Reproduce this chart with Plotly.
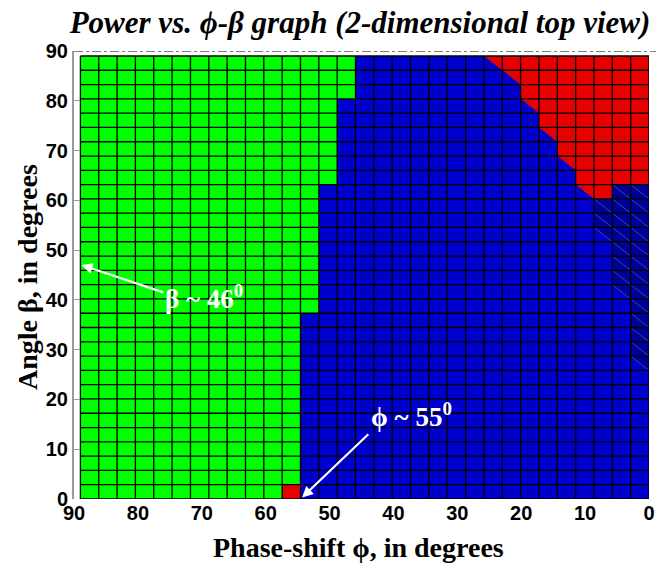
import plotly.graph_objects as go

# ---- data ----
# grid edges (degrees)
phi_edges = [89.0, 86.13, 83.26, 80.39, 77.52, 74.65, 71.77, 68.90, 66.03, 63.16,
             60.29, 57.42, 54.55, 51.68, 48.81, 45.94, 43.06, 40.19, 37.32, 34.45,
             31.58, 28.71, 25.84, 22.97, 20.10, 17.23, 14.35, 11.48, 8.61, 5.74,
             2.87, 0.0]
beta_edges = [0.0, 2.87, 5.74, 8.61, 11.48, 14.35, 17.23, 20.10, 22.97, 25.84,
              28.71, 31.58, 34.45, 37.32, 40.19, 43.06, 45.94, 48.81, 51.68, 54.55,
              57.42, 60.29, 63.16, 66.03, 68.90, 71.77, 74.65, 77.52, 80.39, 83.26,
              86.13, 89.0]

# region of each cell, rows listed from top (beta high) to bottom; columns from phi=89 to phi=0
# G = green, B = blue, D = dark blue, R = red
region_rows_top_down = [
    "GGGGGGGGGGGGGGGBBBBBBBBRRRRRRRR",  # row 30
    "GGGGGGGGGGGGGGGBBBBBBBBBRRRRRRR",  # row 29
    "GGGGGGGGGGGGGGGBBBBBBBBBRRRRRRR",  # row 28
    "GGGGGGGGGGGGGGBBBBBBBBBBBRRRRRR",  # row 27
    "GGGGGGGGGGGGGGBBBBBBBBBBBRRRRRR",  # row 26
    "GGGGGGGGGGGGGGBBBBBBBBBBBBRRRRR",  # row 25
    "GGGGGGGGGGGGGGBBBBBBBBBBBBRRRRR",  # row 24
    "GGGGGGGGGGGGGGBBBBBBBBBBBBBRRRR",  # row 23
    "GGGGGGGGGGGGGGBBBBBBBBBBBBBRRRR",  # row 22
    "GGGGGGGGGGGGGBBBBBBBBBBBBBBBRDD",  # row 21
    "GGGGGGGGGGGGGBBBBBBBBBBBBBBBDDD",  # row 20
    "GGGGGGGGGGGGGBBBBBBBBBBBBBBBDDD",  # row 19
    "GGGGGGGGGGGGGBBBBBBBBBBBBBBBBDD",  # row 18
    "GGGGGGGGGGGGGBBBBBBBBBBBBBBBBDD",  # row 17
    "GGGGGGGGGGGGGBBBBBBBBBBBBBBBBDD",  # row 16
    "GGGGGGGGGGGGGBBBBBBBBBBBBBBBBDD",  # row 15
    "GGGGGGGGGGGGGBBBBBBBBBBBBBBBBBD",  # row 14
    "GGGGGGGGGGGGGBBBBBBBBBBBBBBBBBD",  # row 13
    "GGGGGGGGGGGGBBBBBBBBBBBBBBBBBBD",  # row 12
    "GGGGGGGGGGGGBBBBBBBBBBBBBBBBBBD",  # row 11
    "GGGGGGGGGGGGBBBBBBBBBBBBBBBBBBD",  # row 10
    "GGGGGGGGGGGGBBBBBBBBBBBBBBBBBBB",  # row 9
    "GGGGGGGGGGGGBBBBBBBBBBBBBBBBBBB",  # row 8
    "GGGGGGGGGGGGBBBBBBBBBBBBBBBBBBB",  # row 7
    "GGGGGGGGGGGGBBBBBBBBBBBBBBBBBBB",  # row 6
    "GGGGGGGGGGGGBBBBBBBBBBBBBBBBBBB",  # row 5
    "GGGGGGGGGGGGBBBBBBBBBBBBBBBBBBB",  # row 4
    "GGGGGGGGGGGGBBBBBBBBBBBBBBBBBBB",  # row 3
    "GGGGGGGGGGGGBBBBBBBBBBBBBBBBBBB",  # row 2
    "GGGGGGGGGGGGBBBBBBBBBBBBBBBBBBB",  # row 1
    "GGGGGGGGGGGRBBBBBBBBBBBBBBBBBBB",  # row 0
]

# half-cells (row, column) whose upper-right triangle takes another region
red_triangles = [(30, 22), (29, 23), (27, 24), (25, 25), (23, 26), (21, 27)]
dark_triangles = [(18, 28), (14, 29), (9, 30)]

x_ticks = [0, 10, 20, 30, 40, 50, 60, 70, 80, 90]
y_ticks = [0, 10, 20, 30, 40, 50, 60, 70, 80, 90]

# ---- styles ----
GREEN = "#00FF00"
BLUE = "#0000CD"
DARK = "#000099"
RED = "#E60000"
code = {"G": 0, "B": 1, "D": 2, "R": 3}

ncol = len(phi_edges) - 1
nrow = len(beta_edges) - 1
rows_bottom_up = list(reversed(region_rows_top_down))
z = []
for s in rows_bottom_up:
    r = [code[c] for c in s[:ncol]]
    r += [1] * (ncol - len(r))
    z.append(r)

fig = go.Figure()
fig.add_trace(go.Heatmap(
    x=phi_edges, y=beta_edges, z=z, zmin=-0.5, zmax=3.5,
    colorscale=[[0, GREEN], [0.25, GREEN], [0.25, BLUE], [0.5, BLUE],
                [0.5, DARK], [0.75, DARK], [0.75, RED], [1, RED]],
    showscale=False, hoverinfo="skip"))


def tri_trace(cells, color):
    xs, ys = [], []
    for (r, c) in cells:
        xl, xr = phi_edges[c], phi_edges[c + 1]
        yb, yt = beta_edges[r], beta_edges[r + 1]
        xs += [xl, xr, xr, xl, None]
        ys += [yt, yt, yb, yt, None]
    return go.Scatter(x=xs, y=ys, mode="lines", fill="toself", fillcolor=color,
                      line=dict(width=0, color=color), hoverinfo="skip", showlegend=False)


fig.add_trace(tri_trace(red_triangles, RED))
fig.add_trace(tri_trace(dark_triangles, DARK))

# faint diagonal streaks in dark cells
sx, sy = [], []
for r in range(nrow):
    for c in range(ncol):
        if z[r][c] == 2 or (r, c) in dark_triangles:
            sx += [phi_edges[c], phi_edges[c + 1], None]
            sy += [beta_edges[r + 1], beta_edges[r], None]
fig.add_trace(go.Scatter(x=sx, y=sy, mode="lines", line=dict(color="#4a8a9a", width=1),
                         opacity=0.55, hoverinfo="skip", showlegend=False))

# grid lines
gx, gy = [], []
for xe in phi_edges:
    gx += [xe, xe, None]
    gy += [beta_edges[0], beta_edges[-1], None]
for ye in beta_edges:
    gx += [phi_edges[0], phi_edges[-1], None]
    gy += [ye, ye, None]
fig.add_trace(go.Scatter(x=gx, y=gy, mode="lines", line=dict(color="#000000", width=1.3),
                         hoverinfo="skip", showlegend=False))

# top dashed reference line
fig.add_shape(type="line", xref="paper", yref="y", x0=0, x1=1.02, y0=90, y1=90,
              line=dict(color="#555555", width=1.5, dash="dashdot"))

serif = "Liberation Serif, Times New Roman, serif"
sans = "Liberation Sans, Arial, sans-serif"

fig.add_annotation(x=88.8, y=47.0, ax=75.8, ay=41.4, axref="x", ayref="y", xref="x", yref="y",
                   text="", showarrow=True, arrowhead=2, arrowsize=1, arrowwidth=2.2,
                   arrowcolor="white")
fig.add_annotation(x=69.6, y=40.6, xref="x", yref="y", text="β ~ 46<sup>0</sup>",
                   showarrow=False, font=dict(family=serif, size=27, color="white", weight="bold"))
fig.add_annotation(x=54.3, y=0.3, ax=43.7, ay=13.3, axref="x", ayref="y", xref="x", yref="y",
                   text="", showarrow=True, arrowhead=2, arrowsize=1, arrowwidth=2.2,
                   arrowcolor="white")
fig.add_annotation(x=37.2, y=16.8, xref="x", yref="y", text="ϕ ~ 55<sup>0</sup>",
                   showarrow=False, font=dict(family=serif, size=27, color="white", weight="bold"))

# axis titles
fig.add_annotation(xref="paper", yref="paper", x=(358 - 74) / 575, y=-48 / 448,
                   xanchor="center", yanchor="middle", showarrow=False,
                   text="<b>Phase-shift ϕ, in degrees</b>",
                   font=dict(family=serif, size=28, color="black"))
fig.add_annotation(xref="paper", yref="paper", x=(27 - 74) / 575, y=(499 - 277) / 448,
                   xanchor="center", yanchor="middle", showarrow=False, textangle=-90,
                   text="<b>Angle β, in degrees</b>",
                   font=dict(family=serif, size=28, color="black"))

W, H = 656, 564
fig.update_layout(
    width=W, height=H,
    margin=dict(l=74, r=7, t=51, b=65, autoexpand=False),
    paper_bgcolor="white", plot_bgcolor="white",
    showlegend=False,
    title=dict(text="<b><i>Power vs. ϕ-β graph (2-dimensional top view)</i></b>",
               x=(360 / W), xanchor="center", xref="container",
               y=1 - 22 / H, yanchor="middle", yref="container",
               font=dict(family=serif, size=31, color="black")),
    xaxis=dict(range=[90, 0], tickvals=x_ticks, ticktext=[str(v) for v in x_ticks],
               showgrid=False, zeroline=False, showline=False, ticks="", automargin=False,
               tickfont=dict(family=sans, size=20, color="black", weight="bold")),
    yaxis=dict(range=[0, 90], tickvals=y_ticks, ticktext=[str(v) for v in y_ticks],
               showgrid=False, zeroline=False, showline=True, linecolor="#9a9a9a", linewidth=2,
               ticks="inside", ticklen=6, tickcolor="#9a9a9a", automargin=False,
               tickfont=dict(family=sans, size=20, color="black", weight="bold")),
)

# remove the page's default body margin so the figure sits at the window's corner
fig.write_html("out.html", config={"displayModeBar": False},
               post_script="document.body.style.margin='0';document.body.style.overflow='hidden';")
